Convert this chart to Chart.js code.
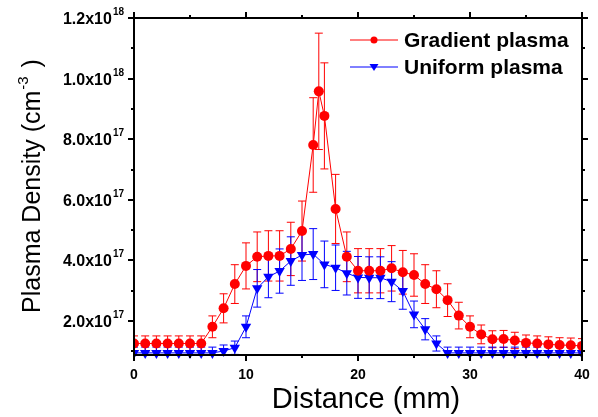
<!DOCTYPE html>
<html>
<head>
<meta charset="utf-8">
<script src="https://cdn.jsdelivr.net/npm/chart.js@4.4.0/dist/chart.umd.min.js"></script>
<style>
    html, body { margin: 0; padding: 0; background: #fff; }
    #wrap { width: 598px; height: 417px; }
</style>
</head>
<body>
<div id="wrap"><canvas id="densityChart" width="598" height="417"></canvas></div>
<script>
        // Data in units of 1e17 cm^-3, distance in mm
        const gradientX = [0, 1, 2, 3, 4, 5, 6, 7, 8, 9, 10, 11, 12, 13, 14, 15, 16, 16.5, 17, 18, 19, 20,
            21, 22, 23, 24, 25, 26, 27, 28, 29, 30, 31, 32, 33, 34, 35, 36, 37, 38, 39, 40];
        const gradientY = [1.26, 1.26, 1.26, 1.26, 1.26, 1.26, 1.26, 1.81, 2.42, 3.22, 3.82, 4.12, 4.15, 4.15, 4.38, 4.97, 7.81, 9.58, 8.77, 5.70, 4.12, 3.66,
            3.66, 3.66, 3.74, 3.61, 3.52, 3.22, 3.05, 2.69, 2.18, 1.81, 1.56, 1.40, 1.41, 1.36, 1.28, 1.26, 1.23, 1.21, 1.20, 1.18];
        const gradientErr = [0.25, 0.25, 0.25, 0.25, 0.25, 0.25, 0.25, 0.36, 0.48, 0.64, 0.76, 0.82, 0.83, 0.83, 0.88, 0.99, 1.56, 1.92, 1.75, 1.14, 0.82, 0.73,
            0.73, 0.73, 0.75, 0.72, 0.70, 0.64, 0.61, 0.54, 0.44, 0.36, 0.31, 0.28, 0.28, 0.27, 0.26, 0.25, 0.25, 0.24, 0.24, 0.24];

        const uniformX = [0, 1, 2, 3, 4, 5, 6, 7, 8, 9, 10, 11, 12, 13, 14, 15, 16, 17, 18, 19, 20,
            21, 22, 23, 24, 25, 26, 27, 28, 29, 30, 31, 32, 33, 34, 35, 36, 37, 38, 39, 40];
        const uniformY = [0.95, 0.95, 0.95, 0.95, 0.95, 0.95, 0.95, 0.95, 1.01, 1.12, 1.81, 3.08, 3.46, 3.65, 3.98, 4.18, 4.21, 3.87, 3.76, 3.58, 3.44,
            3.43, 3.43, 3.30, 2.99, 2.22, 1.73, 1.26, 0.95, 0.95, 0.95, 0.95, 0.95, 0.95, 0.95, 0.95, 0.95, 0.95, 0.95, 0.95, 0.95];
        const uniformErr = [0.19, 0.19, 0.19, 0.19, 0.19, 0.19, 0.19, 0.19, 0.20, 0.22, 0.36, 0.62, 0.69, 0.73, 0.80, 0.84, 0.84, 0.77, 0.75, 0.72, 0.69,
            0.69, 0.69, 0.66, 0.60, 0.44, 0.35, 0.25, 0.19, 0.19, 0.19, 0.19, 0.19, 0.19, 0.19, 0.19, 0.19, 0.19, 0.19, 0.19, 0.19];

        // Axis ticks
        const xMajorTicks = [0, 10, 20, 30, 40];
        const xMinorTicks = [5, 15, 25, 35];
        const yMajorTicks = [2, 4, 6, 8, 10, 12];
        const yMinorTicks = [1, 3, 5, 7, 9, 11];
        const yTickLabels = ['2.0x10|17', '4.0x10|17', '6.0x10|17', '8.0x10|17', '1.0x10|18', '1.2x10|18'];

        const RED = '#ff0000';
        const BLUE = '#0000ff';
        const FONT = 'Arial, "Liberation Sans", sans-serif';

        function toPoints(xs, ys) {
            return xs.map((x, i) => ({ x: x, y: ys[i] }));
        }

        // Error bars, drawn under the markers
        const errorBars = {
            id: 'errorBars',
            beforeDatasetsDraw(chart) {
                const ctx = chart.ctx;
                const a = chart.chartArea;
                const xs = chart.scales.x, ys = chart.scales.y;
                const sets = [
                    { x: gradientX, y: gradientY, e: gradientErr, c: RED },
                    { x: uniformX, y: uniformY, e: uniformErr, c: BLUE }
                ];
                ctx.save();
                ctx.beginPath();
                ctx.rect(a.left, a.top, a.right - a.left, a.bottom - a.top);
                ctx.clip();
                ctx.lineWidth = 1;
                sets.forEach(s => {
                    ctx.strokeStyle = s.c;
                    s.x.forEach((xv, i) => {
                        const px = xs.getPixelForValue(xv);
                        const top = ys.getPixelForValue(s.y[i] + s.e[i]);
                        const bot = ys.getPixelForValue(s.y[i] - s.e[i]);
                        ctx.beginPath();
                        ctx.moveTo(px, top); ctx.lineTo(px, bot);
                        ctx.moveTo(px - 4, top); ctx.lineTo(px + 4, top);
                        ctx.moveTo(px - 4, bot); ctx.lineTo(px + 4, bot);
                        ctx.stroke();
                    });
                });
                ctx.restore();
            }
        };

        // Frame, ticks, labels, titles and legend
        const frame = {
            id: 'frame',
            afterDraw(chart) {
                const ctx = chart.ctx;
                const a = chart.chartArea;
                const xs = chart.scales.x, ys = chart.scales.y;
                ctx.save();
                ctx.strokeStyle = '#000';
                ctx.lineWidth = 2;
                ctx.strokeRect(a.left, a.top, a.right - a.left, a.bottom - a.top);

                ctx.beginPath();
                xMajorTicks.forEach(v => {
                    const px = Math.round(xs.getPixelForValue(v));
                    ctx.moveTo(px, a.bottom); ctx.lineTo(px, a.bottom + 6);
                    ctx.moveTo(px, a.top); ctx.lineTo(px, a.top - 6);
                });
                xMinorTicks.forEach(v => {
                    const px = Math.round(xs.getPixelForValue(v));
                    ctx.moveTo(px, a.bottom); ctx.lineTo(px, a.bottom + 3);
                    ctx.moveTo(px, a.top); ctx.lineTo(px, a.top - 3);
                });
                yMajorTicks.forEach(v => {
                    const py = Math.round(ys.getPixelForValue(v));
                    ctx.moveTo(a.left, py); ctx.lineTo(a.left - 6, py);
                    ctx.moveTo(a.right, py); ctx.lineTo(a.right + 6, py);
                });
                yMinorTicks.forEach(v => {
                    const py = Math.round(ys.getPixelForValue(v));
                    ctx.moveTo(a.left, py); ctx.lineTo(a.left - 3, py);
                    ctx.moveTo(a.right, py); ctx.lineTo(a.right + 3, py);
                });
                ctx.stroke();

                ctx.fillStyle = '#000';
                // x tick labels
                ctx.font = 'bold 14px ' + FONT;
                ctx.textAlign = 'center';
                ctx.textBaseline = 'alphabetic';
                xMajorTicks.forEach(v => {
                    ctx.fillText(String(v), xs.getPixelForValue(v), a.bottom + 24);
                });

                // y tick labels with superscript exponent
                yMajorTicks.forEach((v, i) => {
                    const parts = yTickLabels[i].split('|');
                    const py = ys.getPixelForValue(v);
                    ctx.font = 'bold 10px ' + FONT;
                    const wSup = ctx.measureText(parts[1]).width;
                    ctx.textAlign = 'right';
                    ctx.fillText(parts[1], a.left - 10, py - 3);
                    ctx.font = 'bold 16px ' + FONT;
                    ctx.fillText(parts[0], a.left - 10 - wSup - 1, py + 6);
                });

                // x title
                ctx.font = '29px ' + FONT;
                ctx.textAlign = 'center';
                ctx.fillText('Distance (mm)', 366, 408);

                // y title, rotated
                ctx.save();
                ctx.translate(40, 186);
                ctx.rotate(-Math.PI / 2);
                ctx.font = '25px ' + FONT;
                const t1 = 'Plasma Density (cm';
                const w1 = ctx.measureText(t1).width;
                ctx.font = '15px ' + FONT;
                const t2 = '-3';
                const w2 = ctx.measureText(t2).width;
                ctx.font = '25px ' + FONT;
                const t3 = ' )';
                const w3 = ctx.measureText(t3).width;
                let sx = -(w1 + w2 + 3 + w3) / 2;
                ctx.textAlign = 'left';
                ctx.fillText(t1, sx, 0);
                ctx.font = '15px ' + FONT;
                ctx.fillText(t2, sx + w1 + 1, -12);
                ctx.font = '25px ' + FONT;
                ctx.fillText(t3, sx + w1 + w2 + 3, 0);
                ctx.restore();

                // legend
                const rows = [
                    { label: 'Gradient plasma', c: RED, y: 40, style: 'circle' },
                    { label: 'Uniform plasma', c: BLUE, y: 67, style: 'triangle' }
                ];
                rows.forEach(r => {
                    ctx.strokeStyle = r.c;
                    ctx.lineWidth = 1;
                    ctx.beginPath();
                    ctx.moveTo(350, r.y); ctx.lineTo(398, r.y);
                    ctx.stroke();
                    ctx.fillStyle = r.c;
                    ctx.beginPath();
                    if (r.style === 'circle') {
                        ctx.arc(374, r.y, 3.5, 0, Math.PI * 2);
                    } else {
                        ctx.moveTo(369.5, r.y - 3); ctx.lineTo(378.5, r.y - 3); ctx.lineTo(374, r.y + 4);
                        ctx.closePath();
                    }
                    ctx.fill();
                    ctx.fillStyle = '#000';
                    ctx.font = 'bold 21px ' + FONT;
                    ctx.textAlign = 'left';
                    ctx.textBaseline = 'middle';
                    ctx.fillText(r.label, 404, r.y + 1);
                });
                ctx.restore();
            }
        };

        const ctx = document.getElementById('densityChart').getContext('2d');
        const densityChart = new Chart(ctx, {
            type: 'line',
            data: {
                datasets: [{
                    label: 'Gradient plasma',
                    data: toPoints(gradientX, gradientY),
                    borderColor: RED,
                    backgroundColor: RED,
                    borderWidth: 1,
                    pointStyle: 'circle',
                    pointRadius: 5,
                    pointBorderWidth: 0,
                    tension: 0,
                    clip: { left: 0, right: 0, top: 8, bottom: 8 }
                }, {
                    label: 'Uniform plasma',
                    data: toPoints(uniformX, uniformY),
                    borderColor: BLUE,
                    backgroundColor: BLUE,
                    borderWidth: 1,
                    pointStyle: 'triangle',
                    pointRotation: 180,
                    pointRadius: 6,
                    pointBorderWidth: 0,
                    tension: 0,
                    clip: { left: 0, right: 0, top: 8, bottom: 8 }
                }]
            },
            options: {
                responsive: false,
                animation: false,
                layout: {
                    padding: { left: 134, right: 16, top: 18, bottom: 62 }
                },
                plugins: {
                    legend: { display: false },
                    tooltip: { enabled: false }
                },
                scales: {
                    x: { type: 'linear', min: 0, max: 40, display: false },
                    y: { type: 'linear', min: 0.88, max: 12, display: false }
                }
            },
            plugins: [errorBars, frame]
        });
</script>
</body>
</html>
